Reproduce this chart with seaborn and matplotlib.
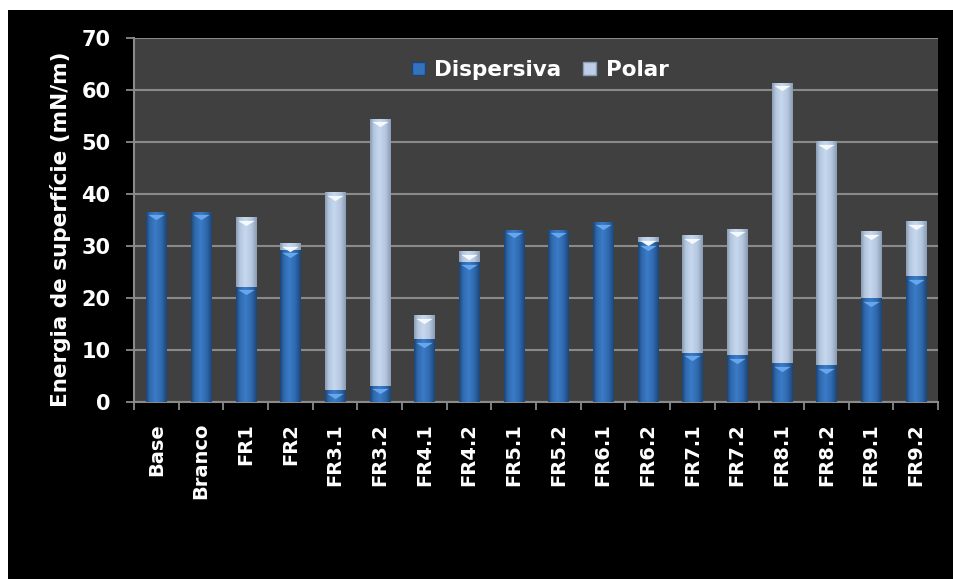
import numpy as np
import pandas as pd
import matplotlib
matplotlib.use("Agg")
import matplotlib.pyplot as plt
import seaborn as sns
from matplotlib.colors import LinearSegmentedColormap
from matplotlib.patches import Rectangle, Patch
from matplotlib.path import Path
from matplotlib.transforms import ScaledTranslation

# Surface energy components (mN/m) per sample
amostras = ["Base", "Branco", "FR1", "FR2", "FR3.1", "FR3.2", "FR4.1", "FR4.2",
            "FR5.1", "FR5.2", "FR6.1", "FR6.2", "FR7.1", "FR7.2", "FR8.1", "FR8.2",
            "FR9.1", "FR9.2"]
dispersiva = [36.6, 36.6, 22.2, 29.3, 2.3, 3.1, 12.1, 27.0,
              33.1, 33.1, 34.7, 30.7, 9.5, 9.0, 7.5, 7.1, 20.0, 24.2]
polar = [0.0, 0.0, 13.3, 1.2, 38.0, 51.4, 4.6, 2.0,
         0.0, 0.0, 0.0, 1.0, 22.6, 24.3, 53.9, 43.1, 12.8, 10.6]
y_ticks = [0, 10, 20, 30, 40, 50, 60, 70]

df = pd.DataFrame({"amostra": amostras, "Dispersiva": dispersiva, "Polar": polar})
df["total"] = df["Dispersiva"] + df["Polar"]

sns.set_theme(style="dark")
plt.rcParams["font.family"] = ["DejaVu Sans"]
plt.rcParams["font.weight"] = "bold"

COL_DISP = "#3472bb"
COL_POL = "#bccfe6"
PLOT_BG = "#404040"
GRID = "#8a8a8a"

fig = plt.figure(figsize=(9.54, 5.79), dpi=100)
fig.patch.set_facecolor("white")
fig.patches.append(Rectangle((8 / 954, 0), 1, 1 - 10 / 579, transform=fig.transFigure,
                             facecolor="black", edgecolor="none", zorder=-10))

ax = fig.add_axes([134 / 954, (579 - 402) / 579, 804 / 954, 364 / 579])
ax.set_facecolor(PLOT_BG)

# stacked bars: full height in the polar colour, dispersive part drawn over it
sns.barplot(data=df, x="amostra", y="total", color=COL_POL, saturation=1,
            width=0.45, ax=ax, zorder=3, linewidth=0)
sns.barplot(data=df, x="amostra", y="Dispersiva", color=COL_DISP, saturation=1,
            width=0.45, ax=ax, zorder=4, linewidth=0)

# cylindrical shading across each bar
def shade_cmap(dark, mid, light):
    return LinearSegmentedColormap.from_list(
        "s", [(0, dark), (0.18, mid), (0.45, light), (0.75, mid), (1, dark)])

cm_disp = shade_cmap("#1d4577", "#2f69ad", "#3b7cc8")
cm_pol = shade_cmap("#8a9db5", "#b4c7df", "#c6d8ee")
grad = np.linspace(0, 1, 64).reshape(1, -1)
n = len(amostras)
for i, p in enumerate(ax.patches):
    h = p.get_height()
    if h <= 0:
        continue
    x0, w, y0 = p.get_x(), p.get_width(), p.get_y()
    cm = cm_pol if i < n else cm_disp
    im = ax.imshow(grad, cmap=cm, aspect="auto", extent=(x0, x0 + w, y0, y0 + h),
                   zorder=p.get_zorder() + 0.1, interpolation="bilinear")
    im.set_clip_path(p)

# light bevel triangles at the top of each segment
tri = Path([(-1, 0.32), (1, 0.32), (0, -0.32), (-1, 0.32)],
           [Path.MOVETO, Path.LINETO, Path.LINETO, Path.CLOSEPOLY])
off = ax.transData + ScaledTranslation(0, -4.0 / 72, fig.dpi_scale_trans)
xs = np.arange(n)
tops_pol = df["total"].values
has_pol = df["Polar"].values > 0.5
ax.scatter(xs[has_pol], tops_pol[has_pol], marker=tri, s=140, color="#f5f8fc",
           linewidths=0, zorder=6, transform=off)
ax.scatter(xs, df["Dispersiva"].values, marker=tri, s=140, color="#66a6ec",
           linewidths=0, zorder=6, transform=off)

ax.set_ylim(0, 70)
ax.set_xlim(-0.5, n - 0.5)
ax.set_yticks(y_ticks)
ax.yaxis.grid(True, color=GRID, linewidth=1.5, zorder=1)
ax.xaxis.grid(False)
ax.set_axisbelow(True)

ax.set_xticks(xs)
ax.set_xticks(np.arange(-0.5, n, 1), minor=True)
ax.tick_params(axis="x", which="major", length=0, pad=15, labelsize=14,
               labelcolor="white", labelrotation=90)
ax.tick_params(axis="x", which="minor", length=6, width=1.3, color=GRID,
               direction="out", bottom=True)
ax.tick_params(axis="y", length=6, width=1.3, color=GRID, direction="out",
               left=True, pad=11, labelsize=15, labelcolor="white")
for lab in ax.get_xticklabels() + ax.get_yticklabels():
    lab.set_fontweight("bold")

for s in ["top", "right"]:
    ax.spines[s].set_visible(False)
for s in ["left", "bottom"]:
    ax.spines[s].set_visible(True)
    ax.spines[s].set_color(GRID)
    ax.spines[s].set_linewidth(1.5)

ax.set_xlabel("")
ax.set_ylabel("Energia de superfície (mN/m)", color="white", fontsize=15.5,
              fontweight="bold")
ax.yaxis.set_label_coords(-0.078, 0.475)

handles = [Patch(facecolor=COL_DISP, edgecolor="#1d4577", label="Dispersiva"),
           Patch(facecolor=COL_POL, edgecolor="#8a9db5", label="Polar")]
leg = ax.legend(handles=handles, loc="center", bbox_to_anchor=(0.505, 0.912),
                ncol=2, frameon=False, fontsize=15.5, handlelength=0.6,
                handleheight=0.6, handletextpad=0.45, columnspacing=1.0)
for t in leg.get_texts():
    t.set_color("white")
    t.set_fontweight("bold")

fig.savefig("out.png", dpi=100, facecolor=fig.get_facecolor())
